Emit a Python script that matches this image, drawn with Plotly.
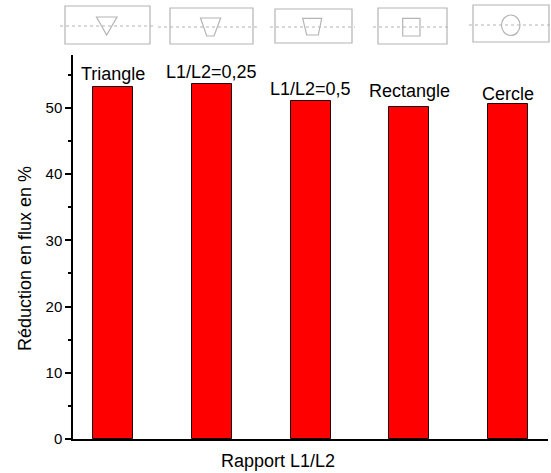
import plotly.graph_objects as go

# ---- data ----
categories = ["Triangle", "L1/L2=0,25", "L1/L2=0,5", "Rectangle", "Cercle"]
reduction = [53.1, 53.6, 51.1, 50.1, 50.6]
y_ticks = [0, 10, 20, 30, 40, 50]

# ---- layout constants (pixels) ----
W, H = 551, 473
ML, MR, MT, MB = 73, 3, 55, 34
PW, PH = W - ML - MR, H - MT - MB
label_shift = [1, 0, 0, 4, -2]

def px(x):
    return (x - ML) / PW

def py(y):
    return (H - MB - y) / PH

xs = list(range(len(categories)))

fig = go.Figure()
fig.add_trace(go.Bar(
    x=xs, y=reduction, width=0.405,
    marker=dict(color="#ff0000", line=dict(color="#200000", width=1)),
    showlegend=False, hoverinfo="skip",
))

FONT = "Liberation Sans, Arial, sans-serif"

annotations = []
for i, (c, v) in enumerate(zip(categories, reduction)):
    annotations.append(dict(
        x=i, y=v, xref="x", yref="y", text=c, showarrow=False,
        yanchor="bottom", xanchor="center", yshift=label_shift[i],
        font=dict(size=18, color="black", family=FONT),
    ))

annotations.append(dict(
    x=px(25), y=py(259), xref="paper", yref="paper", text="Réduction en flux en %",
    textangle=-90, showarrow=False, xanchor="center", yanchor="middle",
    font=dict(size=18, color="black", family=FONT),
))
annotations.append(dict(
    x=px(278), y=py(461), xref="paper", yref="paper", text="Rapport L1/L2",
    showarrow=False, xanchor="center", yanchor="middle",
    font=dict(size=18, color="black", family=FONT),
))

# ---- schematic icons above the plot (decoration) ----
GRAY = "#b4b4b4"
shapes = []
boxes = [(65, 6, 150, 44), (170, 8, 253, 44), (275, 9, 352, 43), (378, 8, 447, 44), (473, 5, 549, 42)]
dashes = [(60, 155, 26), (158, 258, 27), (270, 355, 27), (373, 450, 27), (469, 551, 25)]
for (x0, y0, x1, y1) in boxes:
    shapes.append(dict(type="rect", xref="paper", yref="paper", x0=px(x0), x1=px(x1),
                       y0=py(y1), y1=py(y0), line=dict(color=GRAY, width=1.2)))
for (x0, x1, y) in dashes:
    shapes.append(dict(type="line", xref="paper", yref="paper", x0=px(x0), x1=px(x1),
                       y0=py(y), y1=py(y), line=dict(color=GRAY, width=1.2, dash="dot")))

def poly(points):
    path = "M " + " L ".join(f"{px(a)},{py(b)}" for a, b in points) + " Z"
    return dict(type="path", xref="paper", yref="paper", path=path,
                line=dict(color=GRAY, width=1.2))

shapes.append(poly([(96.5, 17), (117, 17), (106.7, 35)]))
shapes.append(poly([(200.5, 18), (220.7, 18), (214, 36), (206.7, 36)]))
shapes.append(poly([(302.7, 18.3), (321.7, 18.3), (318.3, 35), (306.7, 35)]))
shapes.append(dict(type="rect", xref="paper", yref="paper", x0=px(402.7), x1=px(420),
                   y0=py(36), y1=py(18.3), line=dict(color=GRAY, width=1.2)))
shapes.append(dict(type="circle", xref="paper", yref="paper", x0=px(501.5), x1=px(520),
                   y0=py(35.5), y1=py(15), line=dict(color=GRAY, width=1.2)))

fig.update_layout(
    width=W, height=H,
    margin=dict(l=ML, r=MR, t=MT, b=MB, pad=0),
    plot_bgcolor="white", paper_bgcolor="white",
    font=dict(family=FONT, color="black"),
    bargap=0,
    xaxis=dict(range=[-0.405, 4.405], showticklabels=False, ticks="",
               showgrid=False, zeroline=False, showline=True,
               linecolor="black", linewidth=1.5),
    yaxis=dict(range=[0, 58], tickvals=y_ticks, ticks="outside", ticklen=6,
               tickwidth=1.5, tickcolor="black",
               minor=dict(dtick=5, ticks="outside", ticklen=3, tickwidth=1.5, tickcolor="black"),
               showgrid=False, zeroline=False, showline=True, linecolor="black",
               linewidth=1.5, tickfont=dict(size=15, color="black", family=FONT)),
    annotations=annotations,
    shapes=shapes,
)

fig.write_html("out.html", config={"displayModeBar": False},
               post_script="document.body.style.margin='0';document.body.style.overflow='hidden';")
